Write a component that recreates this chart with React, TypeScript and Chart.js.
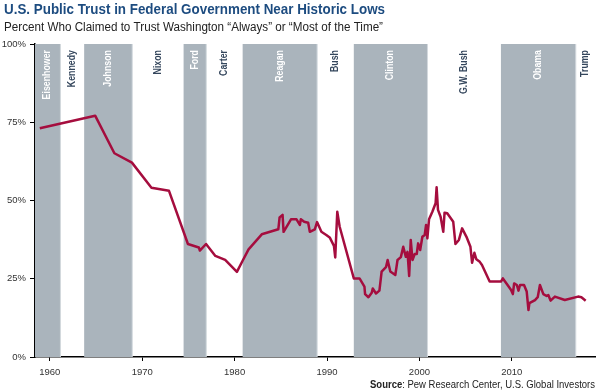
import React, { useEffect, useRef } from "react";
import { Chart, registerables } from "chart.js";

Chart.register(...registerables);

const TITLE = "U.S. Public Trust in Federal Government Near Historic Lows";
const SUBTITLE = "Percent Who Claimed to Trust Washington \u201CAlways\u201D or \u201CMost of the Time\u201D";
const SOURCE_BOLD = "Source";
const SOURCE_REST = ": Pew Research Center, U.S. Global Investors";

const years = [
  1958.92, 1964.91, 1966.99, 1968.89, 1971.0, 1972.9, 1974.95, 1976.13, 1976.24, 1976.91,
  1977.92, 1978.98, 1980.25, 1980.91, 1981.51, 1982.94, 1984.73, 1984.87, 1985.19, 1985.3,
  1986.1, 1986.7, 1987.06, 1987.17, 1987.53, 1987.96, 1988.14, 1988.68, 1988.92, 1989.39,
  1989.92, 1990.29, 1990.75, 1990.89, 1991.11, 1991.37, 1992.9, 1993.52, 1994.05, 1994.12,
  1994.48, 1994.84, 1994.95, 1995.3, 1995.67, 1995.91, 1996.38, 1996.56, 1996.85, 1997.39,
  1997.63, 1997.99, 1998.25, 1998.53, 1998.71, 1998.89, 1999.06, 1999.25, 1999.49, 1999.71,
  1999.86, 2000.08, 2000.32, 2000.57, 2000.72, 2000.86, 2001.04, 2001.4, 2001.75, 2001.86,
  2002.01, 2002.29, 2002.58, 2002.72, 2003.01, 2003.66, 2003.9, 2004.27, 2004.62, 2005.09,
  2005.52, 2005.7, 2005.95, 2006.16, 2006.53, 2006.77, 2007.6, 2008.82, 2009.03, 2009.46,
  2009.92, 2010.11, 2010.25, 2010.54, 2010.72, 2010.89, 2011.32, 2011.61, 2011.8, 2011.9,
  2012.51, 2012.8, 2013.04, 2013.41, 2013.76, 2013.95, 2014.19, 2014.66, 2015.73, 2017.17,
  2017.53, 2017.99,
];

const trust = [
  73.1, 77.1, 65.1, 62.1, 54.1, 53.1, 36.1, 35.0, 34.0, 36.1,
  32.3, 31.0, 27.2, 31.0, 34.4, 39.2, 40.8, 44.6, 45.4, 40.0,
  44.0, 44.0, 42.2, 44.0, 43.2, 42.9, 40.0, 40.8, 43.1, 40.0,
  39.0, 38.2, 35.5, 31.8, 46.4, 41.6, 25.1, 25.1, 22.5, 20.1,
  19.1, 20.5, 21.9, 20.3, 21.2, 27.3, 28.7, 31.0, 27.3, 26.2,
  31.0, 31.9, 35.2, 32.0, 33.6, 25.9, 37.4, 31.0, 32.9, 32.9,
  36.3, 34.2, 38.4, 39.0, 42.2, 37.9, 44.0, 46.4, 49.1, 54.2,
  47.0, 44.8, 40.0, 46.1, 45.9, 43.2, 36.1, 37.4, 41.1, 38.4,
  35.2, 30.1, 33.3, 31.2, 30.4, 29.4, 24.1, 24.1, 25.1, 23.3,
  21.4, 20.1, 23.5, 23.0, 21.2, 23.0, 23.0, 20.9, 15.0, 17.2,
  18.2, 19.1, 23.0, 20.1, 19.5, 19.8, 18.0, 19.3, 18.2, 19.3,
  19.1, 18.0,
];

const presidents = ["Eisenhower", "Kennedy", "Johnson", "Nixon", "Ford", "Carter", "Reagan", "Bush", "Clinton", "G.W. Bush", "Obama", "Trump"];
const termStarts = [1953.0, 1961.15, 1963.72, 1968.92, 1974.48, 1976.93, 1980.87, 1988.93, 1992.9, 2000.87, 2008.82, 2016.92];
const termEnds = [1961.15, 1963.72, 1968.92, 1974.48, 1976.93, 1980.87, 1988.93, 1992.9, 2000.87, 2008.82, 2016.92, 2021.0];
const shaded = [true, false, true, false, true, false, true, false, true, false, true, false];

const xTicks = [1960, 1970, 1980, 1990, 2000, 2010];
const yTicks = [0, 25, 50, 75, 100];
const X_MIN = 1958.4;
const X_MAX = 2019.0;

const FONT = "'Liberation Sans', Arial, sans-serif";
const LINE_COLOR = "#a50d3e";
const BAND_COLOR = "#aab4bc";
const BAND_EDGE = "#d3d9de";
const LABEL_DARK = "#34465c";
const TITLE_COLOR = "#1d4c80";

function drawFitted(ctx: CanvasRenderingContext2D, text: string, x: number, y: number, width: number) {
  const w = ctx.measureText(text).width;
  ctx.save();
  ctx.translate(x, y);
  ctx.scale(width / w, 1);
  ctx.fillText(text, 0, 0);
  ctx.restore();
}

const bandsPlugin = {
  id: "presidentBands",
  beforeDatasetsDraw(chart: any) {
    const { ctx, chartArea, scales } = chart;
    const xs = scales.x;
    ctx.save();
    presidents.forEach((name, i) => {
      const s = Math.max(termStarts[i], X_MIN);
      const e = Math.min(termEnds[i], X_MAX);
      const x1 = xs.getPixelForValue(s);
      const x2 = xs.getPixelForValue(e);
      if (shaded[i]) {
        ctx.fillStyle = BAND_COLOR;
        ctx.fillRect(x1, chartArea.top, x2 - x1, chartArea.bottom - chartArea.top);
        ctx.fillStyle = BAND_EDGE;
        if (termEnds[i] < X_MAX) ctx.fillRect(x2 - 0.5, chartArea.top, 1, chartArea.bottom - chartArea.top);
      }
      const cx = (x1 + x2) / 2;
      ctx.save();
      ctx.translate(cx, chartArea.top + 6);
      ctx.rotate(-Math.PI / 2);
      ctx.scale(0.88, 1);
      ctx.textAlign = "right";
      ctx.textBaseline = "middle";
      ctx.font = `bold 10px ${FONT}`;
      ctx.fillStyle = shaded[i] ? "#ffffff" : LABEL_DARK;
      ctx.fillText(name, 0, 0);
      ctx.restore();
    });
    ctx.restore();
  },
};

const textPlugin = {
  id: "headerFooter",
  afterDraw(chart: any) {
    const { ctx } = chart;
    ctx.save();
    ctx.textBaseline = "alphabetic";
    ctx.textAlign = "left";
    ctx.fillStyle = TITLE_COLOR;
    ctx.font = `bold 15px ${FONT}`;
    drawFitted(ctx, TITLE, 4, 14, 381);
    ctx.fillStyle = "#222222";
    ctx.font = `12.5px ${FONT}`;
    drawFitted(ctx, SUBTITLE, 4, 30.5, 379);

    ctx.font = `11px ${FONT}`;
    const restW = ctx.measureText(SOURCE_REST).width;
    ctx.font = `bold 11px ${FONT}`;
    const boldW = ctx.measureText(SOURCE_BOLD).width;
    const k = 225 / (restW + boldW);
    ctx.save();
    ctx.translate(370, 388);
    ctx.scale(k, 1);
    ctx.fillStyle = "#222222";
    ctx.fillText(SOURCE_BOLD, 0, 0);
    ctx.font = `11px ${FONT}`;
    ctx.fillText(SOURCE_REST, boldW, 0);
    ctx.restore();
    ctx.restore();
  },
};

export default function App() {
  const canvasRef = useRef<HTMLCanvasElement | null>(null);

  useEffect(() => {
    if (!canvasRef.current) return;
    const chart = new Chart(canvasRef.current, {
      type: "line",
      data: {
        datasets: [
          {
            data: years.map((y, i) => ({ x: y, y: trust[i] })),
            borderColor: LINE_COLOR,
            borderWidth: 2.5,
            pointRadius: 0,
            tension: 0,
            fill: false,
            borderJoinStyle: "round",
          },
        ],
      },
      options: {
        animation: false,
        responsive: true,
        maintainAspectRatio: false,
        layout: { padding: { top: 44, right: 5, left: 0, bottom: 0 } },
        plugins: { legend: { display: false }, tooltip: { enabled: false }, title: { display: false } },
        scales: {
          x: {
            type: "linear",
            min: X_MIN,
            max: X_MAX,
            afterBuildTicks: (scale: any) => {
              scale.ticks = xTicks.map((v) => ({ value: v }));
            },
            afterFit: (scale: any) => {
              scale.height = 34;
            },
            ticks: {
              callback: (v: any) => String(v),
              color: "#333333",
              font: { family: FONT, size: 9.5 },
              padding: 6,
              maxRotation: 0,
            },
            grid: { drawOnChartArea: false, drawTicks: true, tickLength: 4, color: "#000000", lineWidth: 1 },
            border: { display: true, color: "#000000", width: 1.5 },
          },
          y: {
            min: 0,
            max: 100,
            afterBuildTicks: (scale: any) => {
              scale.ticks = yTicks.map((v) => ({ value: v }));
            },
            afterFit: (scale: any) => {
              scale.width = 35;
            },
            ticks: {
              callback: (v: any) => `${v}%`,
              color: "#333333",
              font: { family: FONT, size: 9.5 },
              padding: 4,
            },
            grid: { drawOnChartArea: false, drawTicks: true, tickLength: 5, color: "#000000", lineWidth: 1 },
            border: { display: true, color: "#000000", width: 1.5 },
          },
        },
      },
      plugins: [bandsPlugin, textPlugin],
    });
    return () => chart.destroy();
  }, []);

  return (
    <div style={{ position: "absolute", left: 0, top: 0, width: 600, height: 391, background: "#ffffff" }}>
      <canvas ref={canvasRef} />
    </div>
  );
}
